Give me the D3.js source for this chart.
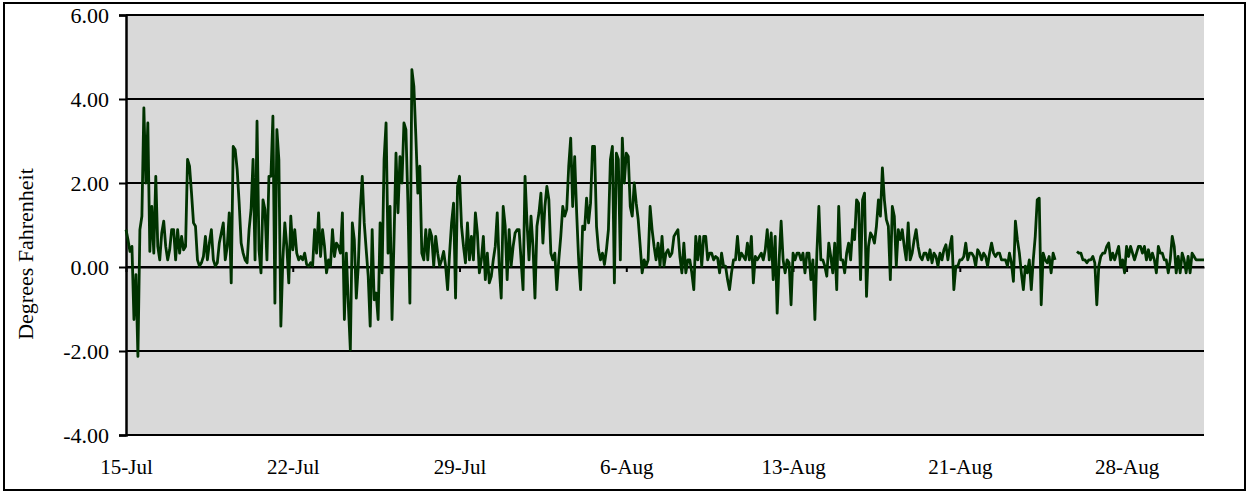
<!DOCTYPE html>
<html>
<head>
<meta charset="utf-8">
<script src="https://cdn.jsdelivr.net/npm/d3@7"></script>
<style>
  html, body { margin: 0; padding: 0; background: #ffffff; }
  svg { display: block; }
  text { font-family: "Liberation Serif", "Times New Roman", serif; fill: #000; }
</style>
</head>
<body>
<svg id="chart" width="1249" height="493"></svg>
<script>
// Temperature difference readings, one every 2 hours starting 15-Jul 00:00.
// null marks hours with no reading.
const SAMPLE_HOURS = 2;
const tempDiff = [
  0.89, 0.65, 0.37, 0.49, -1.25, -0.18, -2.13, 0.89, 1.21, 3.79,
  2.00, 3.43, 0.37, 1.44, 0.33, 2.16, 0.49, 0.17, 0.81, 1.09,
  0.49, 0.17, 0.41, 0.89, 0.89, 0.17, 0.89, 0.33, 0.73, 0.41,
  0.49, 2.56, 2.40, 1.76, 1.05, 0.97, 0.17, 0.02, 0.10, 0.25,
  0.73, 0.17, 0.57, 0.89, 0.17, 0.02, 0.10, 0.57, 0.81, 1.05,
  0.17, 0.49, 1.29, -0.38, 2.87, 2.79, 2.32, 1.52,
  0.57, 0.33, 0.17, 0.10, 0.89, 1.37, 2.56, 0.17, 3.47, 0.41,
  -0.14, 1.60, 1.37, 0.17, 2.16, 2.16, 3.59, -0.86, 3.27, 2.56,
  -1.41, 0.17, 1.05, 0.49, -0.38, 1.21, 0.41, 0.89, 0.33, 0.17,
  0.25, 0.17, 0.33, 0.06, 0.02, 0.10, 0.02, 0.89, 0.33, 1.29,
  0.25, 0.89, 0.49, -0.14, 0.17, 0.02, 0.89, 0.25, 0.57, 0.49,
  0.33, 1.29, -1.25, 0.33, -0.90, -1.97, 1.05, 0.65,
  -0.74, 0.02, 1.37, 2.16, 1.05, 0.41, -0.22, -1.41, 0.89, -0.78,
  -0.62, -1.25, 1.05, -0.14, 2.56, 3.43, 0.33, 1.44, -1.25, 0.65,
  2.71, 1.29, 2.63, 2.00, 3.43, 3.27, 1.52, -0.86, 4.70, 4.30,
  3.11, 1.76, 2.40, 0.33, 0.17, 0.89, 0.17, 0.89, 0.73, 0.02,
  0.73, 0.33, 0.02, 0.17, 0.37, 0.02, -0.54, 0.33, 1.05, 1.52,
  -0.74, 1.92, 2.16, 0.97, 0.49, 0.10, 1.05, 0.17,
  0.73, 0.17, 1.29, 0.81, -0.14, 0.17, 0.73, -0.30, 0.33, -0.38,
  -0.22, 0.17, 0.49, 1.29, 0.02, -0.74, 1.44, 0.97, -0.30, 0.89,
  0.02, 0.49, 0.81, 0.89, 0.89, 0.17, -0.54, 2.16, 1.05, 0.17,
  1.21, 0.49, -0.74, 0.97, 1.29, 1.76, 0.57, 1.44, 1.92, 1.60,
  0.33, 0.17, 0.33, -0.54, 0.17, 0.73, 1.44, 1.21, 1.37, 2.40,
  3.07, 1.44, 2.63, 1.29, 0.17, -0.54, 0.97, 0.89,
  1.64, 1.05, 1.52, 2.87, 2.87, 0.97, 0.41, 0.17, 0.33, 0.06,
  0.41, 0.89, 2.56, 2.87, -0.38, 2.71, 2.56, 0.17, 3.07, 2.00,
  2.71, 2.63, 1.44, 1.21, 2.00, 1.52, 1.13, 0.50, -0.14, 0.17,
  0.02, 0.17, 1.44, 0.89, 0.49, 0.17, 0.57, 0.02, 0.73, 0.02,
  0.33, 0.41, 0.25, 0.33, 0.73, 0.81, 0.89, 0.25, -0.14, 0.57,
  -0.14, 0.17, 0.17, -0.14, -0.54, 0.73, 0.17, 0.73,
  0.02, 0.73, 0.73, 0.17, 0.33, 0.33, 0.17, 0.25, 0.21, -0.14,
  0.33, 0.02, 0.02, -0.30, -0.54, -0.14, 0.17, 0.17, 0.73, 0.17,
  0.33, 0.25, 0.17, 0.57, 0.17, 0.73, -0.38, 0.25, 0.17, 0.25,
  0.33, 0.17, 0.41, 0.89, 0.17, 0.81, -0.30, 0.73, -1.10, 0.17,
  1.09, 0.17, -0.14, 0.17, 0.10, -0.90, 0.33, 0.17, 0.33, 0.33,
  0.17, 0.33, -0.14, 0.33, 0.33, -0.30, 0.17, -1.25,
  0.33, 1.44, 0.17, 0.17, 0.02, -0.22, 0.57, 0.25, -0.14, 0.57,
  -0.54, 1.44, 0.17, 0.17, -0.14, 0.33, 0.57, 0.17, 0.89, 0.65,
  1.60, 1.52, -0.30, 1.60, 1.76, -0.70, 0.49, 0.81, 0.73, 0.57,
  0.97, 1.60, 1.21, 2.36, 1.60, 1.13, 0.97, -0.30, 1.44, 1.21,
  0.02, 0.89, 0.65, 0.89, 0.49, 0.17, 1.05, 0.17, 0.33, 0.65,
  0.89, 0.49, 0.25, 0.17, 0.33, 0.33, 0.17, 0.41,
  0.10, 0.33, 0.25, 0.02, 0.33, 0.17, 0.41, 0.53, 0.17, 0.49,
  0.73, -0.54, 0.02, 0.02, 0.17, 0.17, 0.25, 0.57, 0.17, 0.33,
  0.33, 0.25, 0.02, 0.41, 0.33, 0.17, 0.33, 0.25, 0.02, 0.33,
  0.57, 0.33, 0.25, 0.33, 0.33, 0.17, 0.17, 0.17, 0.02, 0.33,
  0.10, -0.34, 1.09, 0.65, 0.33, -0.14, -0.54, 0.02, -0.14, 0.17,
  -0.54, 0.17, 0.73, 1.60, 1.64, -0.90, 0.33, 0.17,
  0.10, 0.25, -0.14, 0.33, 0.17, null, null, null, null, null,
  null, null, null, null, null, 0.37, 0.33, 0.33, 0.17, 0.17,
  0.10, 0.17, 0.17, 0.25, 0.10, -0.90, 0.02, 0.25, 0.33, 0.33,
  0.49, 0.57, 0.17, 0.33, 0.17, 0.33, 0.49, 0.02, 0.17, -0.14,
  0.49, 0.25, 0.49, 0.33, 0.17, 0.33, 0.49, 0.49, 0.33, 0.49,
  0.17, 0.41, 0.17, 0.33, 0.17, -0.14, 0.49, 0.33, 0.33, 0.17,
  0.17, -0.14, 0.17, 0.73, 0.49, -0.14, 0.25, -0.14, 0.33, 0.17,
  -0.14, 0.25, -0.14, 0.33, 0.25, 0.17, 0.17, 0.17, 0.17, 0.17
];

// Category ticks: one label per week of hourly readings
const tickHours = [0, 168, 336, 504, 672, 840, 1008];
const tickLabels = ["15-Jul", "22-Jul", "29-Jul", "6-Aug", "13-Aug", "21-Aug", "28-Aug"];
const yTickValues = [-4, -2, 0, 2, 4, 6];
const yTitle = "Degrees Fahrenheit";

const FONT = '"Liberation Serif", "Times New Roman", serif';
const svg = d3.select("#chart");
const W = 1249, H = 493;
const plot = { left: 126, right: 1204, top: 15, bottom: 435 };

const totalHours = (tempDiff.length - 1) * SAMPLE_HOURS;
const x = d3.scaleLinear().domain([0, totalHours]).range([plot.left, plot.right]);
const y = d3.scaleLinear().domain([-4, 6]).range([plot.bottom, plot.top]);

// Outer chart frame
svg.append("rect")
  .attr("x", 4).attr("y", 3)
  .attr("width", W - 8).attr("height", H - 6)
  .attr("fill", "#fff").attr("stroke", "#000").attr("stroke-width", 2);

// Plot area
svg.append("rect")
  .attr("x", plot.left).attr("y", plot.top)
  .attr("width", plot.right - plot.left).attr("height", plot.bottom - plot.top)
  .attr("fill", "#d9d9d9");

// Horizontal gridlines (value axis major gridlines)
svg.append("g")
  .selectAll("line")
  .data(yTickValues)
  .join("line")
  .attr("x1", plot.left).attr("x2", plot.right)
  .attr("y1", d => y(d)).attr("y2", d => y(d))
  .attr("stroke", "#000").attr("stroke-width", 2);

// Value axis
const yAxis = d3.axisLeft(y)
  .tickValues(yTickValues)
  .tickFormat(d => d.toFixed(2))
  .tickSize(7)
  .tickPadding(10);
const yg = svg.append("g")
  .attr("transform", `translate(${plot.left},0)`)
  .call(yAxis)
  .attr("font-family", FONT)
  .attr("font-size", 22);
yg.select(".domain").attr("stroke", "#000").attr("stroke-width", 2.5);
yg.selectAll(".tick line").attr("stroke", "#000").attr("stroke-width", 2);

// Category axis crossing at zero, labels placed below the plot
const xAxis = d3.axisBottom(x)
  .tickValues(tickHours)
  .tickFormat((d, i) => tickLabels[i])
  .tickSize(5)
  .tickSizeOuter(0);
const xg = svg.append("g")
  .attr("transform", `translate(0,${y(0)})`)
  .call(xAxis)
  .attr("font-family", FONT)
  .attr("font-size", 21);
xg.select(".domain").attr("stroke", "#000").attr("stroke-width", 2);
xg.selectAll(".tick line").attr("stroke", "#000").attr("stroke-width", 2);
xg.selectAll(".tick text")
  .attr("y", plot.bottom - y(0) + 24)
  .attr("dy", "0.71em");

// Axis title
svg.append("text")
  .attr("transform", `translate(33,254) rotate(-90)`)
  .attr("text-anchor", "middle")
  .attr("font-family", FONT)
  .attr("font-size", 22)
  .text(yTitle);

// Series line
const series = tempDiff.map((v, i) => ({ h: i * SAMPLE_HOURS, v }));
const line = d3.line()
  .defined(d => d.v !== null)
  .x(d => x(d.h))
  .y(d => y(d.v));

svg.append("path")
  .datum(series)
  .attr("d", line)
  .attr("fill", "none")
  .attr("stroke", "#003300")
  .attr("stroke-width", 2.8)
  .attr("stroke-linejoin", "round");
</script>
</body>
</html>
